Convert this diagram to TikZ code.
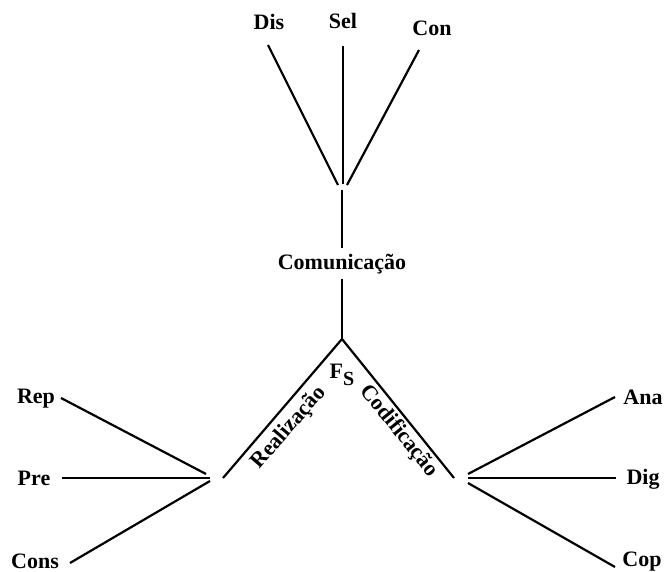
\documentclass[tikz,border=0pt]{standalone}
\usepackage{fontspec}
\setmainfont{Liberation Serif}
\begin{document}
\begin{tikzpicture}[x=1pt,y=-1pt,
  lbl/.style={font=\fontsize{22}{24}\selectfont\bfseries, inner sep=1pt},
  ln/.style={line width=2.2pt, line cap=butt}]
\useasboundingbox (0,0) rectangle (667,572);
% top labels
\node[lbl] (dis) at (269,22) {Dis};
\node[lbl] (sel) at (343,21) {Sel};
\node[lbl] (con) at (432,28) {Con};
\coordinate (dis1) at (268,45);
\coordinate (sel1) at (343,46);
\coordinate (con1) at (419,50);
\coordinate (t1) at (338,185);
\coordinate (t2) at (343,184);
\coordinate (t3) at (347,185);
\coordinate (t4) at (342,190);
\draw[ln] (dis1) -- (t1);
\draw[ln] (sel1) -- (t2);
\draw[ln] (con1) -- (t3);
% communication
\node[lbl] (com) at (342,264) {Comunicação};
\coordinate (comtop) at (342,248);
\coordinate (combot) at (342,279);
\coordinate (apex) at (342,339);
\draw[ln] (t4) -- (comtop);
\draw[ln] (combot) -- (apex);
% V
\coordinate (vl) at (223,478);
\coordinate (vr) at (454,478);
\draw[ln, line join=miter] (vl) -- (apex) -- (vr);
\node[font=\fontsize{22}{24}\selectfont\bfseries, inner sep=0pt] (fs) at (342,375) {F\raisebox{-0.3em}{\fontsize{20}{22}\selectfont S}};
\node[lbl, rotate=49] (real) at (289,428) {Realização};
\node[lbl, rotate=-51] (cod) at (399,431) {Codificação};
% left fan
\node[lbl] (rep) at (36,399) {Rep};
\node[lbl] (pre) at (34,478) {Pre};
\node[lbl] (cons) at (35,561) {Cons};
\coordinate (rep1) at (61,398);
\coordinate (pre1) at (62,478);
\coordinate (cons1) at (70,563);
\coordinate (l1) at (206,474);
\coordinate (l2) at (210,478);
\coordinate (l3) at (210,481);
\draw[ln] (rep1) -- (l1);
\draw[ln] (pre1) -- (l2);
\draw[ln] (cons1) -- (l3);
% right fan
\node[lbl] (ana) at (643,397) {Ana};
\node[lbl] (dig) at (643,479) {Dig};
\node[lbl] (cop) at (642,562) {Cop};
\coordinate (ana1) at (615,397);
\coordinate (dig1) at (616,478);
\coordinate (cop1) at (615,567);
\coordinate (r1) at (468,474);
\coordinate (r2) at (468,478);
\coordinate (r3) at (468,483);
\draw[ln] (r1) -- (ana1);
\draw[ln] (r2) -- (dig1);
\draw[ln] (r3) -- (cop1);
\end{tikzpicture}
\end{document}
